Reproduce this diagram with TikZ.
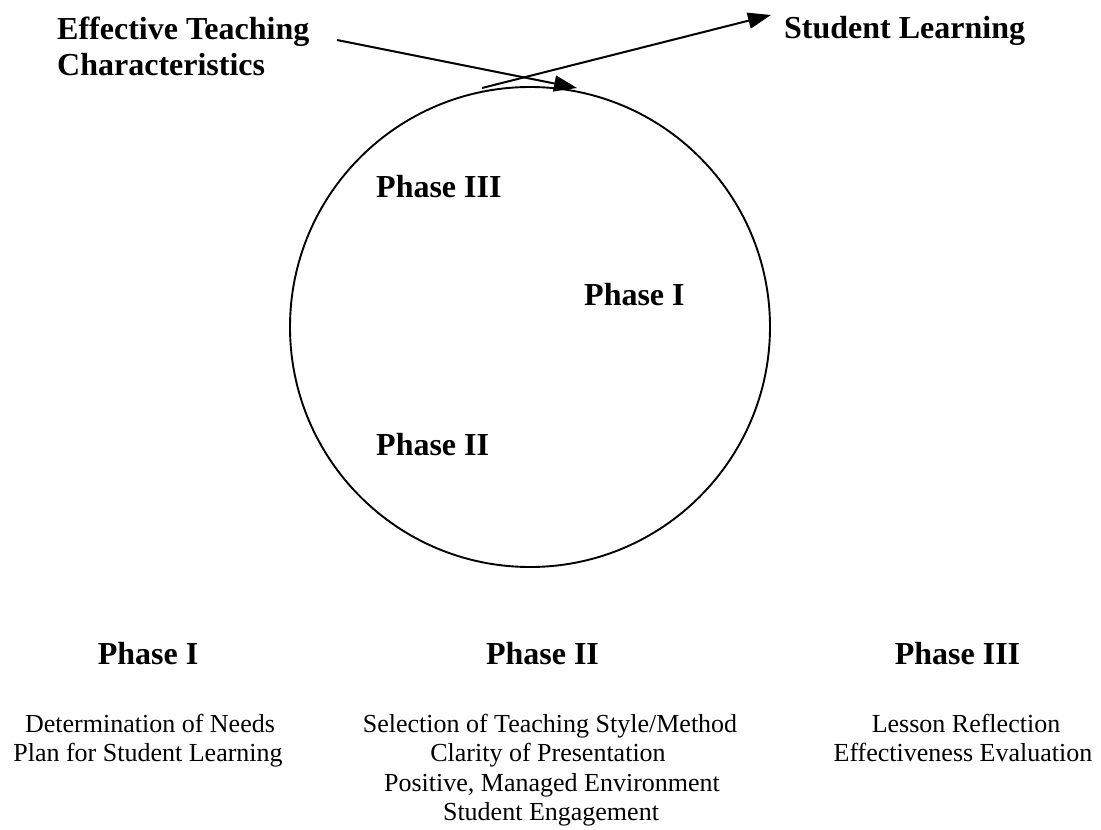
\documentclass[tikz,border=0pt]{standalone}
\usepackage{fontspec}
\setmainfont{Liberation Serif}
\usetikzlibrary{arrows.meta}
\begin{document}
\begin{tikzpicture}[x=1pt,y=-1pt,
  boldtxt/.style={font=\fontsize{32}{36}\selectfont\bfseries, inner sep=0pt},
  regtxt/.style={font=\fontsize{26}{29.5}\selectfont, inner sep=0pt, anchor=base},
  arr/.style={line width=2pt, -{Triangle[length=23pt,width=16pt]}},
]
\useasboundingbox (0,0) rectangle (1101,830);
\node[draw, circle, line width=1.9pt, minimum size=480pt, inner sep=0pt] (cyc) at (530,327) {};

\node[boldtxt, anchor=base west] (etc1) at (57,39) {Effective Teaching};
\node[boldtxt, anchor=base west] (etc2) at (57,75) {Characteristics};
\node[boldtxt, anchor=base west] (sl) at (784,38) {Student Learning};

\node[boldtxt, anchor=base west] (p3c) at (376,197) {Phase III};
\node[boldtxt, anchor=base west] (p1c) at (584,305) {Phase I};
\node[boldtxt, anchor=base west] (p2c) at (376,455) {Phase II};

\coordinate (a1s) at (337,40);
\coordinate (a1e) at (577,88);
\coordinate (a2s) at (482,88);
\coordinate (a2e) at (771,15);
\draw[arr] (a1s) -- (a1e);
\draw[arr] (a2s) -- (a2e);

\node[boldtxt, anchor=base] (h1) at (148,664.5) {Phase I};
\node[boldtxt, anchor=base] (h2) at (542.5,664.5) {Phase II};
\node[boldtxt, anchor=base] (h3) at (957.5,664.5) {Phase III};

\node[regtxt] (c1a) at (150,732) {Determination of Needs};
\node[regtxt] (c1b) at (148,761.5) {Plan for Student Learning};

\node[regtxt] (c2a) at (550,732) {Selection of Teaching Style/Method};
\node[regtxt] (c2b) at (548,761.5) {Clarity of Presentation};
\node[regtxt] (c2c) at (552,791) {Positive, Managed Environment};
\node[regtxt] (c2d) at (551,820.5) {Student Engagement};

\node[regtxt] (c3a) at (966,732) {Lesson Reflection};
\node[regtxt] (c3b) at (963,761.5) {Effectiveness Evaluation};
\end{tikzpicture}
\end{document}
